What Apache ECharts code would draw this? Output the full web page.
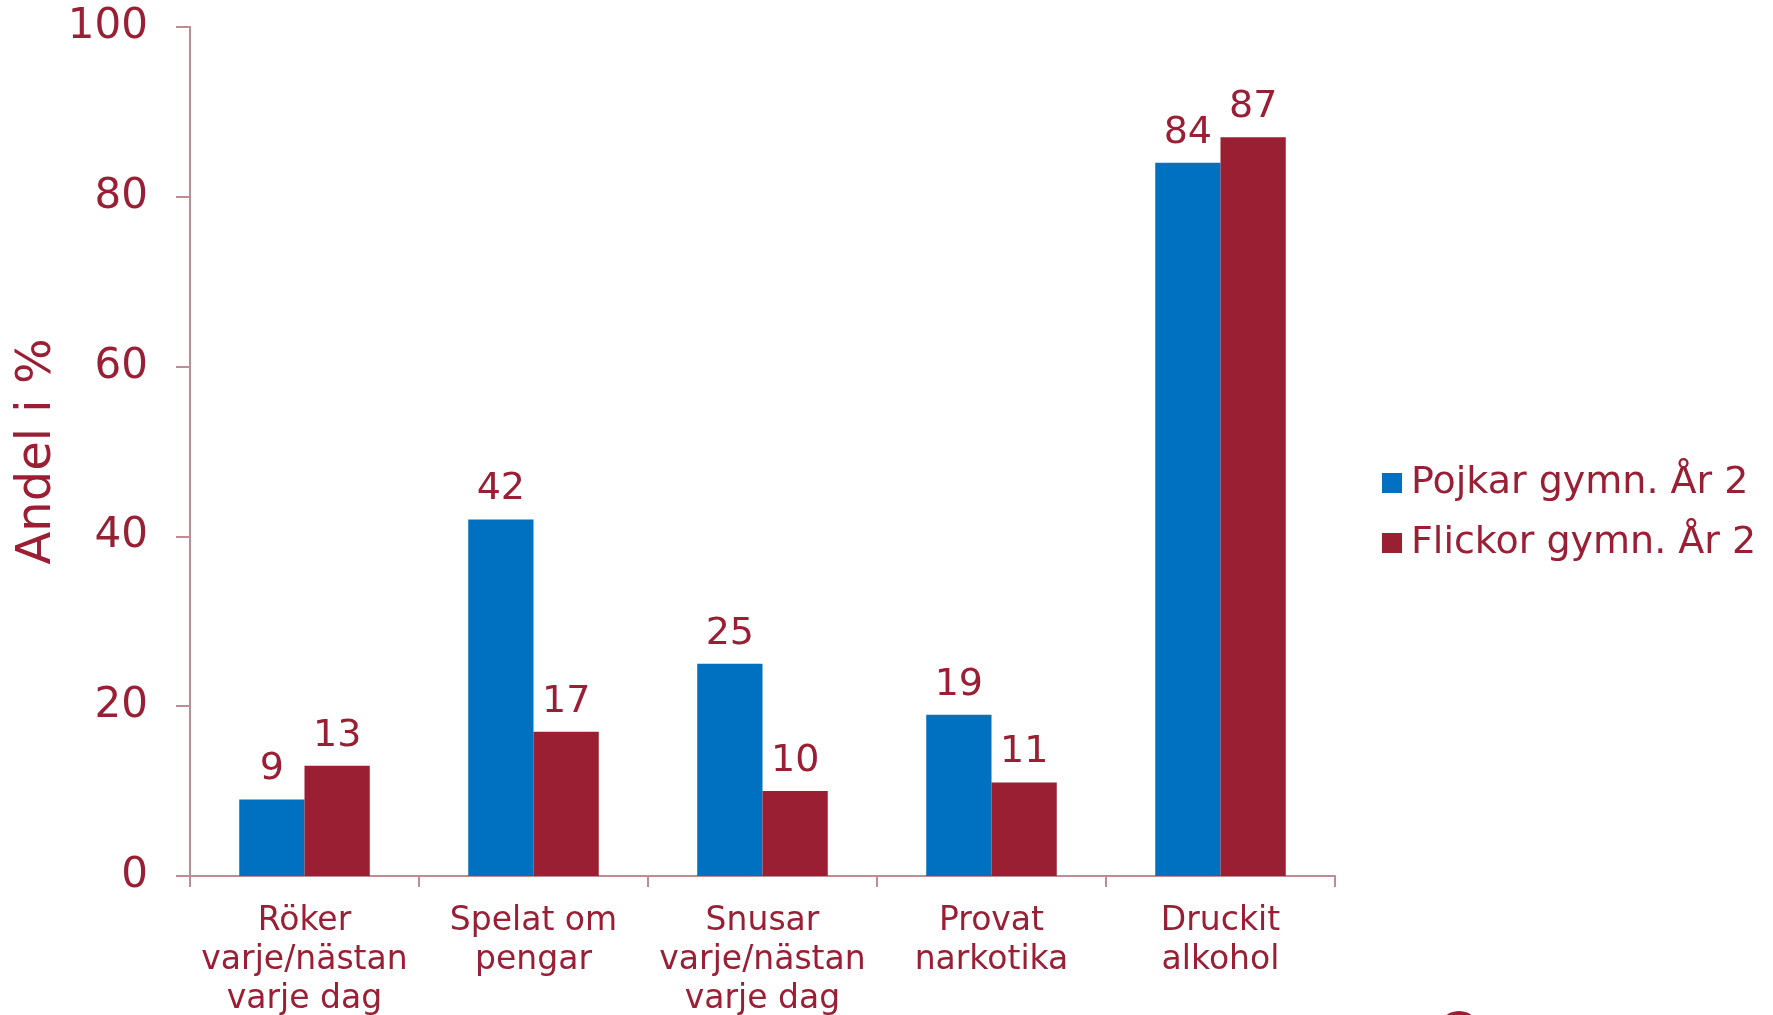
<!DOCTYPE html>
<html>
<head>
<meta charset="utf-8">
<script src="https://cdn.jsdelivr.net/npm/echarts@6/dist/echarts.min.js"></script>
<style>
  html, body { margin: 0; padding: 0; background: #fff; }
  #chart { width: 1773px; height: 1015px; }
</style>
</head>
<body>
<div id="chart"></div>
<script>
// kategorier och värden (andel i %)
const categories = ['Röker\nvarje/nästan\nvarje dag', 'Spelat om\npengar', 'Snusar\nvarje/nästan\nvarje dag', 'Provat\nnarkotika', 'Druckit\nalkohol']
const pojkar = [9, 42, 25, 19, 84]
const flickor = [13, 17, 10, 11, 87]
const seriesNames = ['Pojkar gymn. År 2', 'Flickor gymn. År 2']

const textColor = '#9b1f34'
const axisColor = '#bd8d93'
const font = 'DejaVu Sans'

const chart = echarts.init(document.getElementById('chart'))

const labelStyle = {
  show: true,
  position: 'top',
  distance: 11,
  color: textColor,
  fontFamily: font,
  fontSize: 38
}

chart.setOption({
  animation: false,
  color: ['#0070c0', '#9a1f33'],
  grid: {
    left: 190,
    right: 438,
    top: 27,
    bottom: 139,
    outerBoundsMode: 'none',
    containLabel: false
  },
  legend: {
    orient: 'vertical',
    left: 1377,
    top: 458,
    icon: 'rect',
    itemWidth: 20,
    itemHeight: 20,
    itemGap: 20,
    textStyle: {
      color: textColor,
      fontFamily: font,
      fontSize: 38,
      lineHeight: 40,
      padding: [0, 0, 0, 4]
    },
    data: seriesNames
  },
  xAxis: {
    type: 'category',
    data: categories,
    axisLine: { lineStyle: { color: axisColor, width: 2 } },
    axisTick: { show: true, length: 11, lineStyle: { color: axisColor, width: 2 } },
    axisLabel: {
      color: textColor,
      fontFamily: font,
      fontSize: 33,
      lineHeight: 39,
      margin: 26,
      interval: 0
    }
  },
  yAxis: {
    type: 'value',
    min: 0,
    max: 100,
    interval: 20,
    name: 'Andel i %',
    nameLocation: 'middle',
    nameGap: 128,
    nameMoveOverlap: false,
    nameTextStyle: {
      color: textColor,
      fontFamily: font,
      fontSize: 48
    },
    axisLine: { show: true, lineStyle: { color: axisColor, width: 2 } },
    axisTick: { show: true, length: 14, lineStyle: { color: axisColor, width: 2 } },
    splitLine: { show: false },
    axisLabel: {
      color: textColor,
      fontFamily: font,
      fontSize: 42,
      margin: 42
    }
  },
  series: [
    {
      name: seriesNames[0],
      type: 'bar',
      data: pojkar,
      barGap: '0%',
      barCategoryGap: '43%',
      label: labelStyle
    },
    {
      name: seriesNames[1],
      type: 'bar',
      data: flickor,
      barGap: '0%',
      barCategoryGap: '43%',
      label: labelStyle
    }
  ],
  graphic: [
    {
      type: 'circle',
      shape: { cx: 1459, cy: 1032, r: 21 },
      style: { fill: '#9a1f33' }
    }
  ]
})
</script>
</body>
</html>
